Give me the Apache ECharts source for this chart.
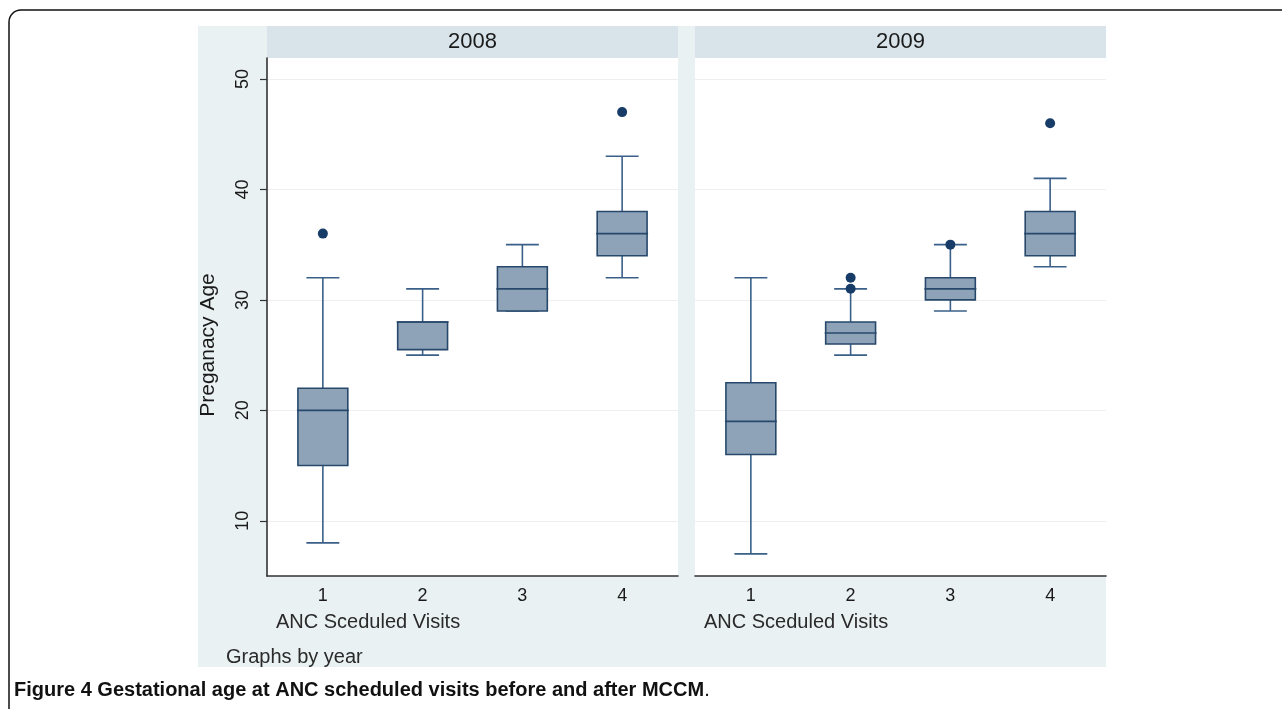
<!DOCTYPE html>
<html>
<head>
<meta charset="utf-8">
<title>Gestational age at ANC scheduled visits</title>
<script src="https://cdn.jsdelivr.net/npm/echarts@6/dist/echarts.min.js"></script>
<style>
  html, body { margin: 0; padding: 0; background: #fff; }
  #chart { width: 1282px; height: 709px; }
</style>
</head>
<body>
<div id="chart"></div>
<script>
const years = ['2008', '2009'];
const visits = [1, 2, 3, 4];
const yTicks = [10, 20, 30, 40, 50];

// per visit: [lower whisker, Q1, median, Q3, upper whisker]
const box2008 = [
  [8, 15, 20, 22, 32],
  [25, 25.5, 28, 28, 31],
  [29, 29, 31, 33, 35],
  [32, 34, 36, 38, 43]
];
const box2009 = [
  [7, 16, 19, 22.5, 32],
  [25, 26, 27, 28, 31],
  [29, 30, 31, 32, 35],
  [33, 34, 36, 38, 41]
];

// [visit, value]
const outliers2008 = [[1, 36], [4, 47]];
const outliers2009 = [[2, 31], [2, 32], [3, 35], [4, 46]];

const FONT = '"Liberation Sans", Arial, sans-serif';
const BOX_FILL = '#8fa3b8';
const BOX_EDGE = '#27486b';
const WHISKER = '#3a5f88';
const DOT = '#173c68';
const STATA_BG = '#eaf1f3';
const STRIP_BG = '#d8e4ea';

const PANEL_LEFT = [267, 695];
const PANEL_W = 411;
const PANEL_TOP = 58;
const PANEL_H = 518;

function boxData(stats) {
  return stats.map((s, i) => [visits[i]].concat(s));
}

function renderBox(params, api) {
  const x = api.value(0);
  const lo = api.coord([x, api.value(1)]);
  const q1 = api.coord([x, api.value(2)]);
  const med = api.coord([x, api.value(3)]);
  const q3 = api.coord([x, api.value(4)]);
  const hi = api.coord([x, api.value(5)]);
  const unit = api.size([1, 0])[0];
  const bw = unit * 0.25;
  const cw = unit * 0.165;
  const cx = lo[0];
  const seg = (x1, y1, x2, y2, color) => ({
    type: 'line',
    shape: { x1, y1, x2, y2 },
    style: { stroke: color, lineWidth: 1.6 }
  });
  return {
    type: 'group',
    children: [
      seg(cx, hi[1], cx, q3[1], WHISKER),
      seg(cx, q1[1], cx, lo[1], WHISKER),
      seg(cx - cw, hi[1], cx + cw, hi[1], WHISKER),
      seg(cx - cw, lo[1], cx + cw, lo[1], WHISKER),
      {
        type: 'rect',
        shape: { x: cx - bw, y: q3[1], width: 2 * bw, height: q1[1] - q3[1] },
        style: { fill: BOX_FILL, stroke: BOX_EDGE, lineWidth: 1.6 }
      },
      seg(cx - bw - 1, med[1], cx + bw + 1, med[1], BOX_EDGE)
    ]
  };
}

const chart = echarts.init(document.getElementById('chart'), null, { renderer: 'canvas' });

const grids = PANEL_LEFT.map(left => ({
  left: left,
  top: PANEL_TOP,
  width: PANEL_W,
  height: PANEL_H,
  show: true,
  backgroundColor: '#ffffff',
  borderWidth: 0,
  outerBoundsMode: 'none'
}));

const xAxes = PANEL_LEFT.map((_, i) => ({
  type: 'value',
  gridIndex: i,
  min: 0.44,
  max: 4.56,
  axisLine: { show: true, onZero: false, lineStyle: { color: '#333333', width: 1.6 } },
  axisTick: { show: false },
  splitLine: { show: false },
  axisLabel: {
    customValues: visits,
    margin: 11,
    fontSize: 18,
    fontFamily: FONT,
    color: '#1a1a1a'
  }
}));

const yAxes = PANEL_LEFT.map((_, i) => ({
  type: 'value',
  gridIndex: i,
  min: 5,
  max: 51.9,
  axisLine: { show: i === 0, onZero: false, lineStyle: { color: '#333333', width: 1.6 } },
  axisTick: { show: i === 0, customValues: yTicks, length: 7, lineStyle: { color: '#333333', width: 1.2 } },
  splitLine: { show: true, lineStyle: { color: '#efefef', width: 1.2 } },
  axisLabel: {
    show: i === 0,
    customValues: yTicks,
    rotate: 90,
    margin: 15,
    fontSize: 18,
    fontFamily: FONT,
    color: '#1a1a1a'
  }
}));

const graphics = [
  {
    type: 'rect',
    z: -20,
    shape: { x: 9, y: 10, width: 1300, height: 730, r: 12 },
    style: { fill: '#ffffff', stroke: '#111111', lineWidth: 1.5 }
  },
  {
    type: 'rect',
    z: -10,
    shape: { x: 198, y: 26, width: 908, height: 641 },
    style: { fill: STATA_BG }
  },
  {
    type: 'text',
    x: 208,
    y: 345,
    rotation: Math.PI / 2,
    style: {
      text: 'Preganacy Age',
      fontSize: 21,
      fontFamily: FONT,
      fill: '#1a1a1a',
      align: 'center',
      verticalAlign: 'middle'
    }
  },
  {
    type: 'text',
    left: 226,
    top: 647,
    style: { text: 'Graphs by year', fontSize: 20, fontFamily: FONT, fill: '#2a2a2a' }
  },
  {
    type: 'text',
    left: 14,
    top: 680,
    style: {
      text: '{b|Figure 4 Gestational age at ANC scheduled visits before and after MCCM}{n|.}',
      rich: {
        b: { fontSize: 20, fontWeight: 'bold', fontFamily: FONT, fill: '#111111' },
        n: { fontSize: 20, fontFamily: FONT, fill: '#111111' }
      }
    }
  }
];

years.forEach((year, i) => {
  const left = PANEL_LEFT[i];
  graphics.push({
    type: 'rect',
    z: -5,
    shape: { x: left, y: 26, width: PANEL_W, height: 32 },
    style: { fill: STRIP_BG }
  });
  graphics.push({
    type: 'text',
    x: left + PANEL_W / 2,
    y: 42,
    style: {
      text: year,
      fontSize: 22,
      fontFamily: FONT,
      fill: '#1a1a1a',
      align: 'center',
      verticalAlign: 'middle'
    }
  });
  graphics.push({
    type: 'text',
    x: left + 9,
    y: 622,
    style: {
      text: 'ANC Sceduled Visits',
      fontSize: 20,
      fontFamily: FONT,
      fill: '#2a2a2a',
      align: 'left',
      verticalAlign: 'middle'
    }
  });
});

const boxSets = [box2008, box2009];
const outlierSets = [outliers2008, outliers2009];

const series = [];
years.forEach((year, i) => {
  series.push({
    name: 'box ' + year,
    type: 'custom',
    xAxisIndex: i,
    yAxisIndex: i,
    renderItem: renderBox,
    encode: { x: 0, y: [1, 2, 3, 4, 5] },
    data: boxData(boxSets[i]),
    z: 3
  });
  series.push({
    name: 'outliers ' + year,
    type: 'scatter',
    xAxisIndex: i,
    yAxisIndex: i,
    symbol: 'circle',
    symbolSize: 10,
    itemStyle: { color: DOT, opacity: 1 },
    data: outlierSets[i],
    z: 4
  });
});

chart.setOption({
  backgroundColor: '#ffffff',
  animation: false,
  grid: grids,
  xAxis: xAxes,
  yAxis: yAxes,
  graphic: graphics,
  series: series
});
</script>
</body>
</html>
